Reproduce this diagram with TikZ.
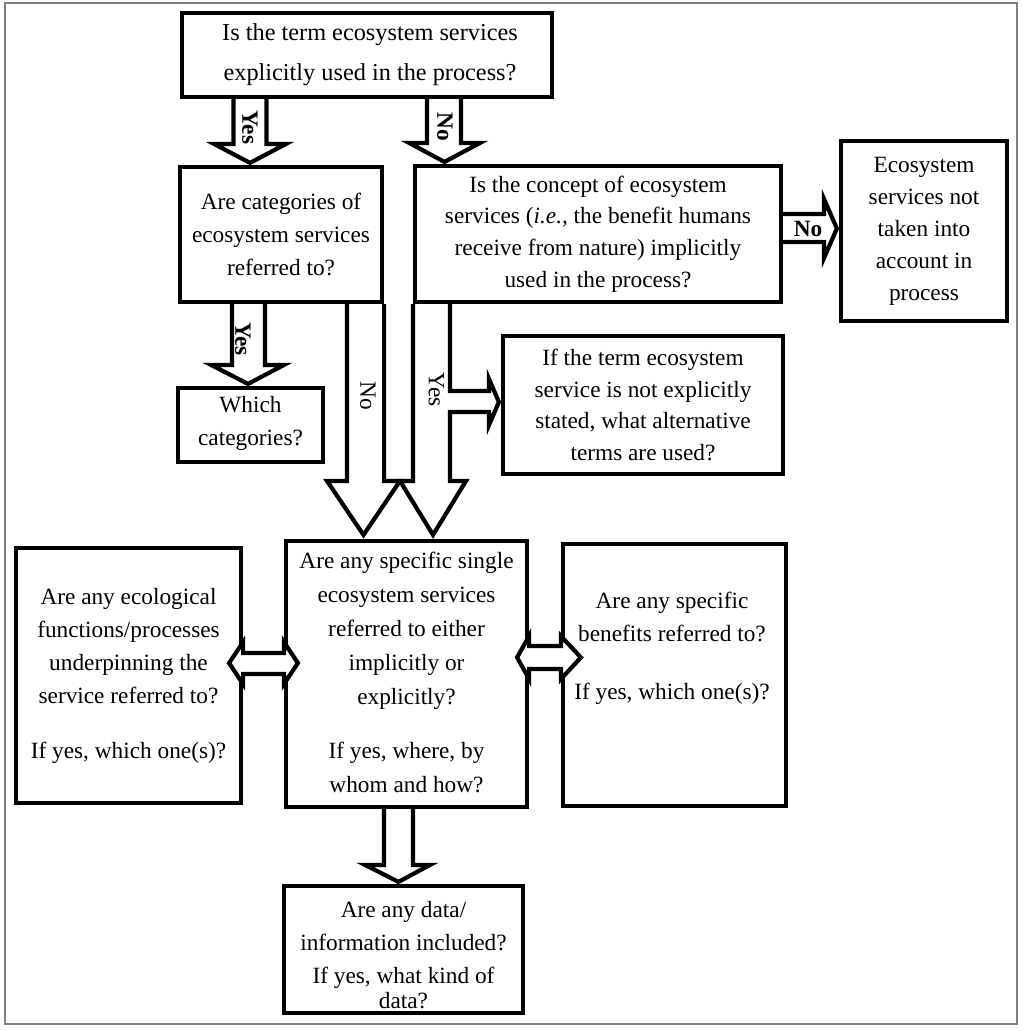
\documentclass[tikz,border=0pt]{standalone}
\usepackage{fontspec}
\setmainfont{Liberation Serif}
\usetikzlibrary{calc,backgrounds}
\begin{document}
\begin{tikzpicture}[x=1pt,y=-1pt,
 box/.style={draw, line width=4.2pt, inner sep=0pt, align=center, font=\fontsize{23.3}{33}\selectfont},
 txt/.style={inner sep=0pt, align=center, font=\fontsize{23.3}{33}\selectfont},
 barrow/.style={draw, line width=4.2pt, fill=white, line join=miter, miter limit=10},
 lab/.style={inner sep=0pt, font=\fontsize{23.3}{28}\selectfont\bfseries},
 labr/.style={inner sep=0pt, font=\fontsize{23.3}{28}\selectfont},
]
\useasboundingbox (0,0) rectangle (1024,1031);
\draw[black!50, line width=1.2pt] (5,3) rectangle (1017,1024);

% boxes
\node[box, minimum width=370pt, minimum height=84pt] (q1) at (367,55) {};
\node[txt, font=\fontsize{24.3}{33}\selectfont] (q1t) at (370,55) {Is the term ecosystem services\\[7pt]explicitly used in the process?};
\node[box, minimum width=202pt, minimum height=135pt] (q2) at (281,234.5) {Are categories of\\ecosystem services\\referred to?};
\node[box, minimum width=366pt, minimum height=136pt, font=\fontsize{23.3}{31.7}\selectfont] (q3) at (598,234) {Is the concept of ecosystem\\services (\textit{i.e.,} the benefit humans\\receive from nature) implicitly\\used in the process?};
\node[box, minimum width=166pt, minimum height=180pt, font=\fontsize{23.3}{32}\selectfont] (q4) at (924,231) {Ecosystem\\services not\\taken into\\account in\\process};
\node[box, minimum width=145pt, minimum height=74pt] (q5) at (250.5,425) {};
\node[txt] (q5t) at (250.5,423) {Which\\categories?};
\node[box, minimum width=280pt, minimum height=138pt, font=\fontsize{23.3}{31.7}\selectfont] (q6) at (643,405) {If the term ecosystem\\service is not explicitly\\stated, what alternative\\terms are used?};
\node[box, minimum width=241pt, minimum height=266pt] (q7) at (406.5,674) {};
\node[txt, font=\fontsize{23.3}{34}\selectfont] (q7t) at (406.5,672) {Are any specific single\\ecosystem services\\referred to either\\implicitly or\\explicitly?\\[20pt]If yes, where, by\\whom and how?};
\node[box, minimum width=225pt, minimum height=255pt] (q8) at (128.5,675.5) {Are any ecological\\functions/processes\\underpinning the\\service referred to?\\[22pt]If yes, which one(s)?};
\node[box, minimum width=223pt, minimum height=262pt] (q9) at (674.5,675) {};
\node[txt] (q9t) at (672,648.5) {Are any specific\\benefits referred to?\\[25pt]If yes, which one(s)?};
\node[box, minimum width=239pt, minimum height=127pt] (q10) at (403.5,949.5) {};
\node[txt, font=\fontsize{23.3}{33}\selectfont] (q10t) at (403.5,955) {Are any data/\\information included?\\If yes, what kind of\\[-8pt]data?};

% single block arrows (behind boxes)
\begin{pgfonlayer}{background}
\draw[barrow] let \p1=(q1.south), \p2=(q2.north) in
  (233.5,\y1) -- (233.5,\y2+21pt) -- (214,\y2+21pt) -- (250,\y2+2pt) -- (286,\y2+21pt) -- (266.5,\y2+21pt) -- (266.5,\y1);
\draw[barrow] let \p1=(q1.south), \p2=(q3.north) in
  (427,\y1) -- (427,\y2+21pt) -- (409,\y2+21pt) -- (444.5,\y2+2pt) -- (480,\y2+21pt) -- (461,\y2+21pt) -- (461,\y1);
\draw[barrow] let \p1=(q2.south), \p2=(q5.north) in
  (232,\y1) -- (232,\y2+21pt) -- (211,\y2+21pt) -- (248,\y2+2pt) -- (284,\y2+21pt) -- (265,\y2+21pt) -- (265,\y1);
\draw[barrow] let \p1=(q2.south east), \p2=(q7.north) in
  (347,\y1) -- (347,\y2+58pt) -- (327,\y2+58pt) -- (363.5,\y2+4pt) -- (400,\y2+58pt) -- (\x1,\y2+58pt) -- (\x1,\y1);
\draw[barrow] let \p1=(q3.south west), \p2=(q7.north), \p3=(q6.west) in
  (\x1,\y1) -- (\x1,\y2+58pt) -- (400,\y2+58pt) -- (433,\y2+4pt) -- (466,\y2+58pt) -- (450,\y2+58pt)
  -- (450,412) -- (489,412) -- (489,425) -- (\x3-2pt,402) -- (489,379) -- (489,391) -- (450,391) -- (450,\y1);
\draw[barrow] let \p1=(q3.east), \p2=(q4.west) in
  (\x1,214) -- (824,214) -- (824,199) -- (\x2-2pt,228.5) -- (824,258) -- (824,242) -- (\x1,242);
\draw[barrow] let \p1=(q7.south), \p2=(q10.north) in
  (384,\y1) -- (384,\y2+19pt) -- (365,\y2+19pt) -- (398.5,\y2+2pt) -- (430,\y2+19pt) -- (413,\y2+19pt) -- (413,\y1);
\end{pgfonlayer}

% double arrows
\draw[barrow] let \p1=(q8.east), \p2=(q7.west) in
  (\x1-14pt,663) -- (\x1,642) -- (\x1,653) -- (\x2,653) -- (\x2,642) -- (\x2+14pt,663) -- (\x2,684) -- (\x2,674) -- (\x1,674) -- (\x1,684) -- cycle;
\draw[barrow] let \p1=(q7.east), \p2=(q9.west) in
  (\x1-12pt,657.5) -- (\x1,636) -- (\x1,646) -- (\x2,646) -- (\x2,636) -- (\x2+20pt,657.5) -- (\x2,679) -- (\x2,669) -- (\x1,669) -- (\x1,679) -- cycle;

% arrow labels
\node[lab, rotate=-90] (l1) at (250,127.5) {Yes};
\node[lab, rotate=-90] (l2) at (445,127) {No};
\node[lab, rotate=-90] (l3) at (243,339) {Yes};
\node[labr, rotate=-90] (l4) at (368,396) {No};
\node[labr, rotate=-90] (l5) at (436.5,389.5) {Yes};
\node[lab] (l6) at (808,228.5) {No};
\end{tikzpicture}
\end{document}
